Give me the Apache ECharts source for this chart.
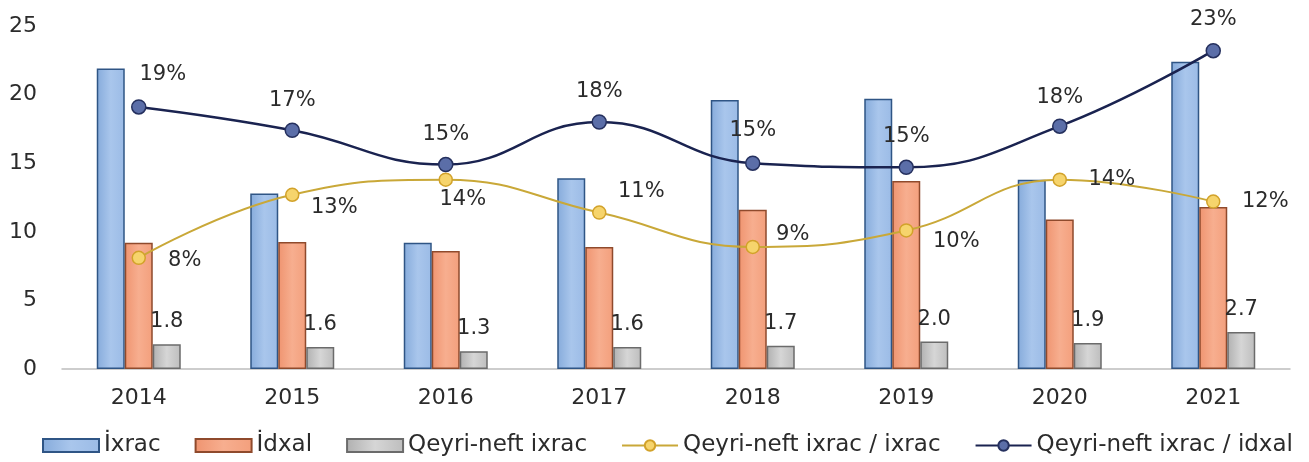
<!DOCTYPE html>
<html>
<head>
<meta charset="utf-8">
<script src="https://cdn.jsdelivr.net/npm/echarts@6/dist/echarts.min.js"></script>
<style>
  html, body { margin: 0; padding: 0; background: #ffffff; }
  #chart { width: 1309px; height: 462px; }
</style>
</head>
<body>
<div id="chart"></div>
<script>
// Years on the category axis
const years = ['2014', '2015', '2016', '2017', '2018', '2019', '2020', '2021'];

// Bars, billion
const ixrac = [21.9, 12.8, 9.2, 13.9, 19.6, 19.7, 13.8, 22.4];
const idxal = [9.2, 9.25, 8.6, 8.9, 11.6, 13.7, 10.9, 11.8];
const qeyriNeftIxrac = [1.8, 1.6, 1.3, 1.6, 1.7, 2.0, 1.9, 2.7];

// Shares, percent
const shareOfIxrac = [8.1, 12.7, 13.8, 11.4, 8.9, 10.1, 13.8, 12.2];
const shareOfIdxal = [19.1, 17.4, 14.9, 18.0, 15.0, 14.7, 17.7, 23.2];

// Series names
const NAME_IXRAC = '\u0130xrac';
const NAME_IDXAL = '\u0130dxal';
const NAME_QN = 'Qeyri-neft ixrac';
const NAME_QN_IXRAC = 'Qeyri-neft ixrac / ixrac';
const NAME_QN_IDXAL = 'Qeyri-neft ixrac / idxal';

// Y axis ticks
const yMin = 0, yMax = 25, yStep = 5;

const FONT = 'DejaVu Sans';
const TEXT = '#2b2b2b';

// Label offsets (px) from each point's marker centre
const idxalLabelShift = [[24, -32], [0, -30], [0, -30], [0, -30], [0, -33], [0, -31], [0, -29], [0, -31]];
const ixracLabelShift = [[46, 3], [42, 13], [17, 20], [42, -21], [40, -12], [50, 11], [52, 0], [52, 0]];

function hGrad(stops) {
  return new echarts.graphic.LinearGradient(0, 0, 1, 0,
    stops.map(function (c, i) { return { offset: i / (stops.length - 1), color: c }; }));
}

function pctPoints(values, shifts) {
  return values.map(function (v, i) {
    return { value: v, label: { position: 'inside', offset: shifts[i] } };
  });
}

function pctText(p) { return Math.round(p.value) + '%'; }
function oneDecimal(p) { return p.value.toFixed(1); }

const chart = echarts.init(document.getElementById('chart'), null, { renderer: 'canvas' });

chart.setOption({
  animation: false,
  backgroundColor: '#ffffff',
  textStyle: { fontFamily: FONT, color: TEXT },
  grid: { left: 62, right: 19, top: 26, bottom: 93, containLabel: false },
  legend: {
    left: 37,
    top: 429,
    itemWidth: 56,
    itemHeight: 13,
    itemGap: 34,
    textStyle: { fontFamily: FONT, fontSize: 23, color: TEXT },
    data: [
      { name: NAME_IXRAC, icon: 'rect' },
      { name: NAME_IDXAL, icon: 'rect' },
      { name: NAME_QN, icon: 'rect' },
      { name: NAME_QN_IXRAC },
      { name: NAME_QN_IDXAL }
    ]
  },
  xAxis: {
    type: 'category',
    data: years,
    axisTick: { show: false },
    axisLine: { lineStyle: { color: '#bdbdbd', width: 1.5 } },
    axisLabel: { fontFamily: FONT, fontSize: 22, color: TEXT, margin: 18 }
  },
  yAxis: {
    type: 'value',
    min: yMin,
    max: yMax,
    interval: yStep,
    axisLine: { show: false },
    axisTick: { show: false },
    splitLine: { show: false },
    axisLabel: { fontFamily: FONT, fontSize: 22, color: TEXT, margin: 25 }
  },
  series: [
    {
      name: NAME_IXRAC,
      type: 'bar',
      barWidth: 28,
      barGap: '0%',
      z: 2,
      data: ixrac,
      itemStyle: {
        color: hGrad(['#86abdb', '#a9c6ec', '#9bbbe6']),
        borderColor: '#2f5585',
        borderWidth: 1.5
      }
    },
    {
      name: NAME_IDXAL,
      type: 'bar',
      barWidth: 28,
      barGap: '0%',
      z: 2,
      data: idxal,
      itemStyle: {
        color: hGrad(['#ef9470', '#f7ae8f', '#f39f7c']),
        borderColor: '#8f4a2c',
        borderWidth: 1.5
      }
    },
    {
      name: NAME_QN,
      type: 'bar',
      barWidth: 28,
      barGap: '0%',
      z: 2,
      data: qeyriNeftIxrac,
      itemStyle: {
        color: hGrad(['#b0b0b0', '#d6d6d6', '#bdbdbd']),
        borderColor: '#6b6b6b',
        borderWidth: 1.5
      },
      label: {
        show: true,
        position: 'top',
        distance: 12,
        fontFamily: FONT,
        fontSize: 21,
        color: TEXT,
        formatter: oneDecimal
      }
    },
    {
      name: NAME_QN_IXRAC,
      type: 'line',
      smooth: 0.45,
      z: 4,
      data: pctPoints(shareOfIxrac, ixracLabelShift),
      symbol: 'circle',
      symbolSize: 13,
      lineStyle: { color: '#c9a838', width: 2 },
      itemStyle: { color: '#f6d46c', borderColor: '#d2a22a', borderWidth: 1.5 },
      label: {
        show: true,
        fontFamily: FONT,
        fontSize: 21,
        color: TEXT,
        formatter: pctText
      }
    },
    {
      name: NAME_QN_IDXAL,
      type: 'line',
      smooth: 0.45,
      z: 5,
      data: pctPoints(shareOfIdxal, idxalLabelShift),
      symbol: 'circle',
      symbolSize: 14,
      lineStyle: { color: '#1a2350', width: 2.5 },
      itemStyle: { color: '#5b6ea8', borderColor: '#25305e', borderWidth: 1.5 },
      label: {
        show: true,
        fontFamily: FONT,
        fontSize: 21,
        color: TEXT,
        formatter: pctText
      }
    }
  ]
});
</script>
</body>
</html>
